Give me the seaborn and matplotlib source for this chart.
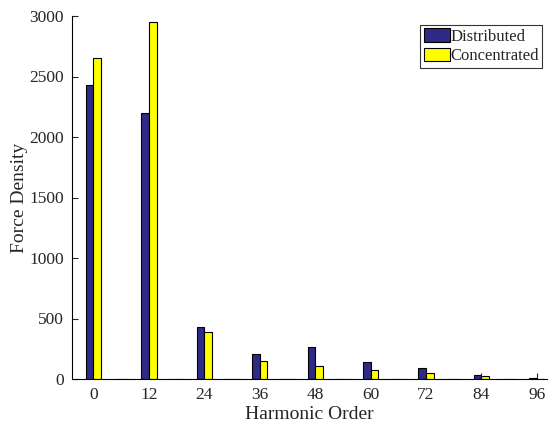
import matplotlib
matplotlib.use("Agg")
import matplotlib.pyplot as plt
import seaborn as sns
import pandas as pd

harmonic = [0, 6, 12, 18, 24, 30, 36, 42, 48, 54, 60, 66, 72, 78, 84, 90, 96]
distributed = [2430, 2, 2200, 2, 430, 2, 209, 2, 264, 2, 138, 2, 88, 2, 33, 2, 11]
concentrated = [2650, 1, 2950, 1, 385, 1, 146, 1, 105, 1, 72, 1, 52, 1, 27, 1, 4]
series = ["Distributed", "Concentrated"]
colors = ["#2e2a86", "#ffff00"]
xticks = [0, 12, 24, 36, 48, 60, 72, 84, 96]

df = pd.DataFrame({
    "Harmonic Order": harmonic * 2,
    "Force Density": distributed + concentrated,
    "series": [series[0]] * len(harmonic) + [series[1]] * len(harmonic),
})

sns.set_style("white")
plt.rcParams["font.family"] = ["Liberation Serif", "DejaVu Serif"]

fig = plt.figure(figsize=(5.55, 4.32), dpi=100)
ax = fig.add_axes([72 / 555, 1 - 379 / 432, (547 - 72) / 555, (379 - 16) / 432])

sns.barplot(data=df, x="Harmonic Order", y="Force Density", hue="series",
            native_scale=True, palette=colors, saturation=1, width=0.55,
            edgecolor="black", linewidth=0.8, ax=ax)

ax.set_xlim(-4.65, 98.2)
ax.set_ylim(0, 3000)
ax.set_xticks(xticks)
ax.set_yticks(range(0, 3001, 500))
ax.set_axisbelow(True)
ax.tick_params(direction="in", length=4, width=0.8, labelsize=12.5,
               top=False, right=False, left=True, bottom=True, pad=6)
for s in ["top", "right"]:
    ax.spines[s].set_visible(False)
for s in ["left", "bottom"]:
    ax.spines[s].set_color("black")
    ax.spines[s].set_linewidth(0.8)
ax.set_xlabel("Harmonic Order", fontsize=14, labelpad=2)
ax.set_ylabel("Force Density", fontsize=14, labelpad=1)

leg = ax.legend(loc="upper right", bbox_to_anchor=(0.99, 0.975), fontsize=12,
                frameon=True, fancybox=False, edgecolor="black",
                handlelength=1.55, handleheight=0.9, handletextpad=0.05,
                borderpad=0.2, borderaxespad=0, labelspacing=0.15)
leg.get_frame().set_linewidth(0.8)

fig.savefig("out.png", dpi=100)
